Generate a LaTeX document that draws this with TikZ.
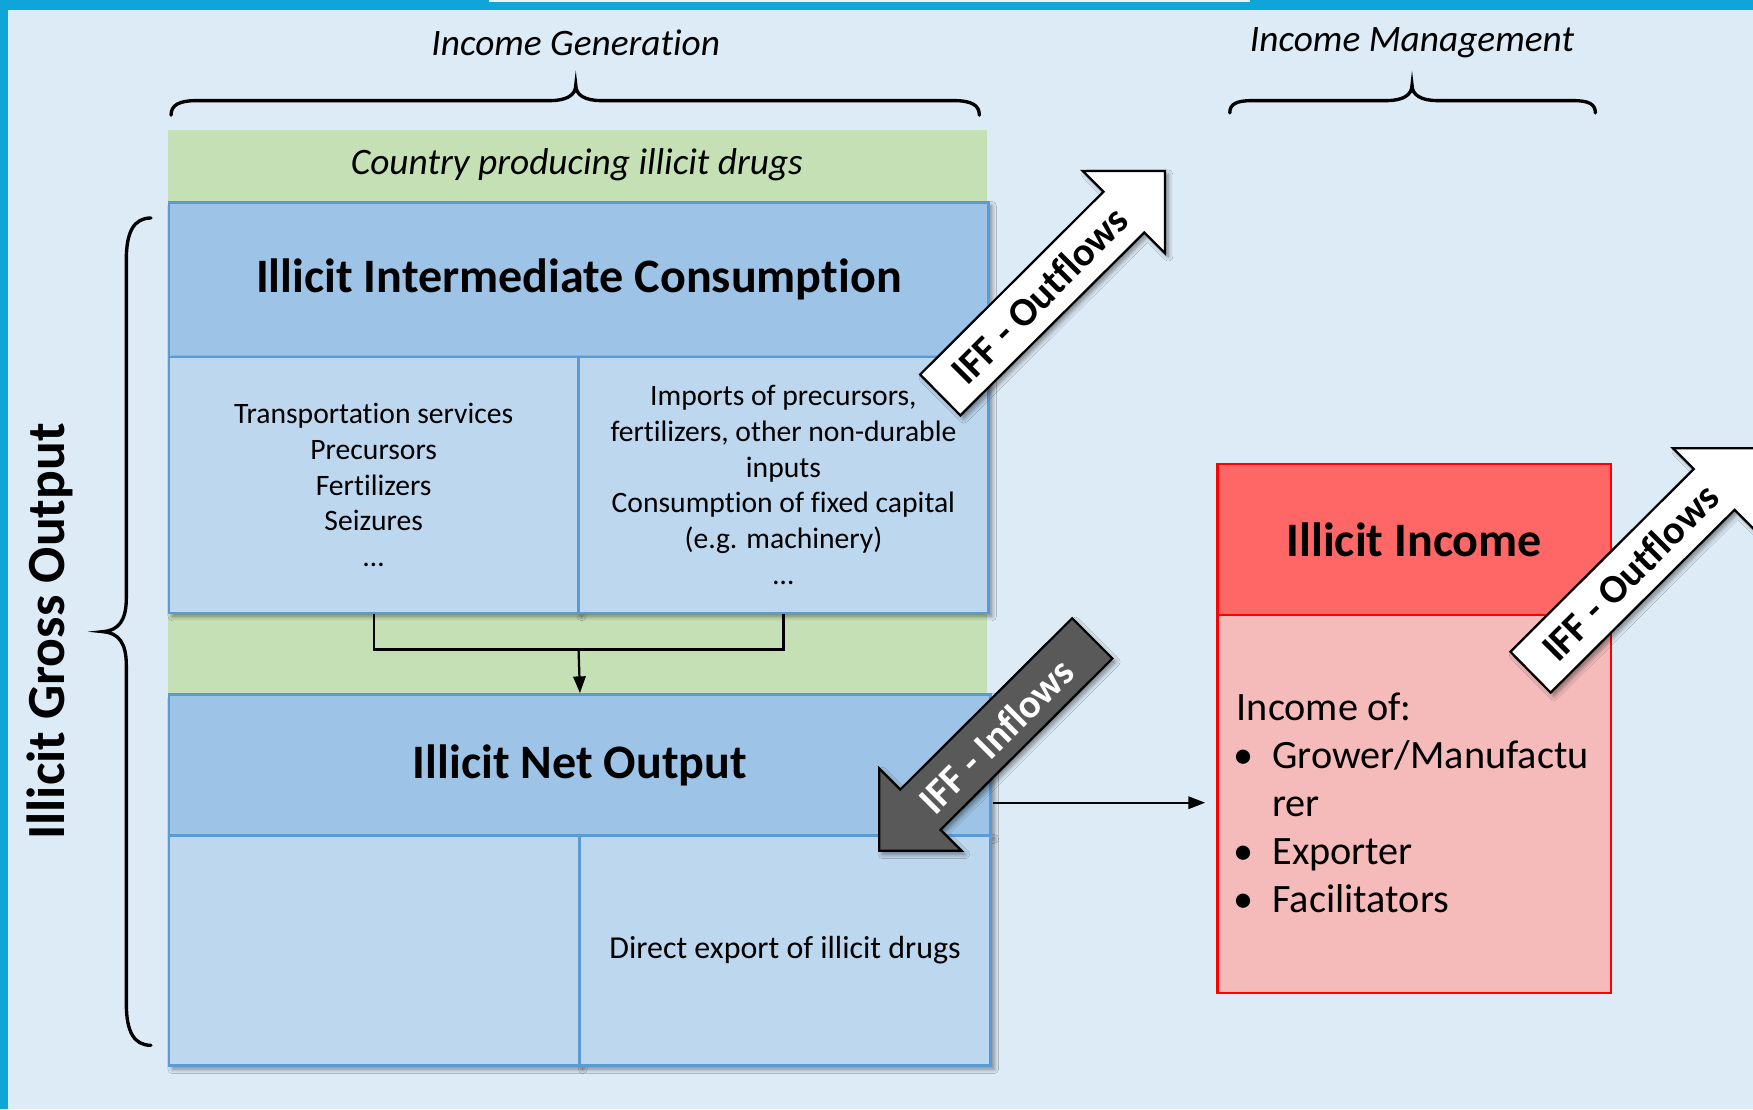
\documentclass[tikz,border=0pt]{standalone}
\usepackage{fontspec}
\setmainfont{Carlito}[Ligatures={NoCommon}]
\usetikzlibrary{arrows.meta,shadows.blur,calc}
\definecolor{bgc}{RGB}{221,235,247}
\definecolor{cyanb}{RGB}{16,165,216}
\definecolor{greenb}{RGB}{197,224,180}
\definecolor{blued}{RGB}{157,195,230}
\definecolor{bluel}{RGB}{189,215,238}
\definecolor{blueline}{RGB}{91,155,213}
\definecolor{redh}{RGB}{255,102,102}
\definecolor{redl}{RGB}{245,187,187}
\definecolor{darkg}{RGB}{89,89,89}
\newcommand\fsz[2]{\fontsize{#1}{#2}\selectfont}
\begin{document}
\begin{tikzpicture}[x=1pt,y=-1pt,
  shad/.style={blur shadow={shadow xshift=3pt,shadow yshift=-3pt,shadow blur radius=4pt,shadow blur steps=6,shadow opacity=45}},
  hdr/.style={shad,draw=blueline,line width=2.5pt,fill=blued,inner sep=0pt,anchor=north west,align=center,font=\fsz{43}{50}\bfseries},
  cell/.style={shad,draw=blueline,line width=2.5pt,fill=bluel,inner sep=0pt,anchor=north west,align=center,font=\fsz{26.5}{32}},
  redhdr/.style={draw=red,line width=2pt,fill=redh,inner sep=0pt,anchor=north west,align=center,font=\fsz{43}{50}\bfseries},
  redbody/.style={draw=red,line width=2pt,fill=redl,inner sep=0pt,anchor=north west},
  label/.style={font=\fsz{33.4}{40}\itshape},
  brace/.style={line width=3pt,line cap=round},
  conn/.style={line width=2pt},
  tip/.style={-{Triangle[length=15pt,width=11pt]}},
  blockw/.style={shad,fill=white,draw=black,line width=2pt,line join=miter},
  blockd/.style={shad,fill=darkg,draw=black,line width=2pt,line join=miter},
  ifftext/.style={rotate=45,font=\fsz{36}{40}\bfseries}
]
\useasboundingbox (0,0) rectangle (1568,992);
% background and frame
\fill[bgc] (0,0) rectangle (1568,992);
\fill[cyanb] (0,0) rectangle (1568,9);
\fill[cyanb] (0,0) rectangle (7,992);
\fill[bgc!50!white] (437,0) rectangle (1118,1.5);

% headings and braces
\node[label] (ig) at (515,38) {Income Generation};
\node[label] (im) at (1263,38.5) {Income Management};
\draw[brace] (153,103) .. controls (153,94) and (160,90) .. (176,90) -- (492,90)
  .. controls (507,90) and (515,85) .. (515,76) .. controls (515,85) and (523,90) .. (538,90)
  -- (853,90) .. controls (869,90) and (876,94) .. (876,103);
\draw[brace] (1100,101) .. controls (1100,93) and (1106,90) .. (1120,90) -- (1240,90)
  .. controls (1255,90) and (1263,85) .. (1263,76) .. controls (1263,85) and (1271,90) .. (1286,90)
  -- (1407,90) .. controls (1421,90) and (1427,93) .. (1427,101);
\draw[brace] (135,195) .. controls (120,195) and (113,207) .. (113,232) -- (113,535)
  .. controls (113,555) and (106,564) .. (92,565) .. controls (106,566) and (113,575) .. (113,595)
  -- (113,898) .. controls (113,923) and (120,935) .. (135,935);
\node[rotate=90,font=\fsz{48}{56}\bfseries] (go) at (45,565) {Illicit Gross Output};

% country band
\fill[greenb] (150,116) rectangle (883,620);
\node[label] (cp) at (516,147.5) {Country producing illicit drugs};

% intermediate consumption block
\node[hdr,minimum width=733pt,minimum height=138pt] (ic) at (150,180) {Illicit Intermediate Consumption};
\node[cell,minimum width=366pt,minimum height=229pt] (lc) at (150,318)
  {Transportation services\\Precursors\\Fertilizers\\Seizures\\…};
\node[cell,minimum width=367pt,minimum height=229pt] (rc) at (516,318)
  {Imports of precursors,\\fertilizers, other non-durable\\inputs\\Consumption of fixed capital\\(e.g. machinery)\\…};

% net output block
\node[hdr,minimum width=735pt,minimum height=126pt] (no) at (150,620) {Illicit Net Output};
\node[cell,minimum width=367pt,minimum height=206pt] (nl) at (150,746) {};
\node[cell,minimum width=368pt,minimum height=206pt,font=\fsz{28.6}{34}] (nr) at (517,746) {Direct export of illicit drugs};

% connector cells -> net output
\coordinate (j) at (517.5,581);
\draw[conn] (lc.south) |- (j) -| (rc.south);
\draw[conn,tip] (j) -- (no.north);

% illicit income
\node[redhdr,minimum width=352pt,minimum height=135pt] (ii) at (1088,414) {Illicit Income};
\node[redbody,minimum width=352pt,minimum height=338pt] (ib) at (1088,549) {};
\node[anchor=west,inner sep=0pt,font=\fsz{36}{43}] (ibt) at (1106,722)
  {\begin{tabular}{@{}l@{\hspace{17pt}}l@{}}
   \multicolumn{2}{@{}l}{Income of:}\\
   \hspace*{-3pt}\textbullet & Grower/Manufactu\\
    & rer\\
   \hspace*{-3pt}\textbullet & Exporter\\
   \hspace*{-3pt}\textbullet & Facilitators
  \end{tabular}};

% connector net output -> income
\coordinate (s1) at (888,718);
\coordinate (e1) at (1078,718);
\draw[conn,tip] (s1) -- (e1);

% IFF block arrows
\path[blockw] (823,335) -- (987,171.5) -- (968.5,153) -- (1042,153) -- (1042,226.5) -- (1023.5,208) -- (859,371.5) -- cycle;
\node[ifftext] (of1) at (930,264) {IFF - Outflows};

\path[blockd] (959,553) -- (805.3,706.2) -- (786.5,687.4) -- (786.5,761) -- (860.1,761) -- (841.3,742.2) -- (995,589) -- cycle;
\node[ifftext,text=white] (inf) at (891,658) {IFF - Inflows};

\path[blockw] (1351,583) -- (1515,419.5) -- (1496.5,401) -- (1570,401) -- (1570,474.5) -- (1551.5,456) -- (1387,619.5) -- cycle;
\node[ifftext] (of2) at (1458,512) {IFF - Outflows};
\end{tikzpicture}
\end{document}
